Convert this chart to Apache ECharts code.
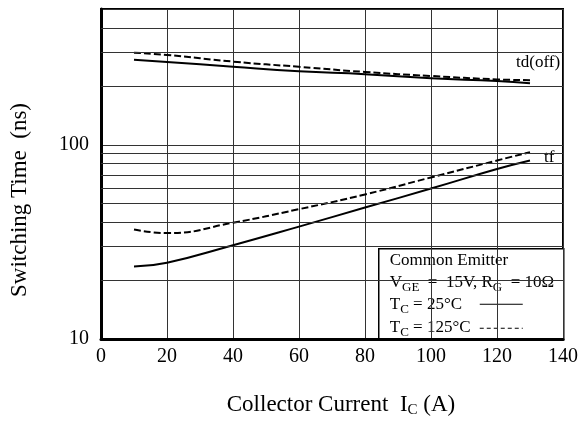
<!DOCTYPE html>
<html>
<head>
<meta charset="utf-8">
<script src="https://cdn.jsdelivr.net/npm/echarts@6/dist/echarts.min.js"></script>
<style>
  html, body { margin: 0; padding: 0; background: #fff; }
  #chart { width: 582px; height: 426px; }
</style>
</head>
<body>
<div id="chart"></div>
<script>
// collector current (A)
var current = [10, 20, 40, 60, 80, 100, 120, 130];
// switching times (ns)
var tdOff25 = [274, 267, 252, 239, 231, 220, 213, 207.5];
var tdOff125 = [298, 290, 268, 252, 237, 226, 217, 215];
var tf25 = [23.6, 24.7, 30.4, 37.9, 47.5, 59.5, 75, 83];
var tf125 = [36.6, 35.1, 39.7, 46.6, 55.5, 67.9, 83, 91.6];
// minor log grid values
var minorGrid = [20, 30, 40, 50, 60, 70, 80, 90, 200, 300, 400];

var serif = '"Liberation Serif", "DejaVu Serif", serif';

function pairs(ys) {
    return current.map(function(x, i) { return [x, ys[i]]; });
}

// rich styles for legend text with subscripts
var legendRich = {
    m: { fontFamily: serif, fontSize: 17, fill: '#000', lineHeight: 20, verticalAlign: 'top' },
    s: { fontFamily: serif, fontSize: 13, fill: '#000', lineHeight: 20, verticalAlign: 'bottom', padding: [8, 0, 0, 0] }
};

var chart = echarts.init(document.getElementById('chart'));

var solid = { color: '#000', width: 2, type: 'solid' };
var dashed = { color: '#000', width: 2, type: [7, 3] };

var option = {
    backgroundColor: '#fff',
    animation: false,
    grid: {
        left: 101, right: 19, top: 9, bottom: 87,
        show: true, borderColor: '#000', borderWidth: 2
    },
    xAxis: {
        type: 'value', min: 0, max: 140, interval: 20,
        name: 'Collector Current  I{s|C} (A)',
        nameLocation: 'middle', nameGap: 53,
        nameTextStyle: {
            fontFamily: serif, fontSize: 23, color: '#000', padding: [0, 0, 0, 18],
            rich: {
                s: { fontFamily: serif, fontSize: 15, color: '#000', padding: [11, 0, 0, 0] }
            }
        },
        axisLine: { lineStyle: { color: '#000', width: 3 } },
        axisTick: { show: false },
        axisLabel: { fontFamily: serif, fontSize: 20, color: '#000', margin: 8 },
        splitLine: { show: true, lineStyle: { color: '#333', width: 1 } }
    },
    yAxis: {
        type: 'log', logBase: 10, min: 10, max: 500,
        name: 'Switching Time  (ns)',
        nameLocation: 'middle', nameGap: 70,
        nameTextStyle: { fontFamily: serif, fontSize: 23, color: '#000', padding: [0, 52, 0, 0] },
        axisLine: { lineStyle: { color: '#000', width: 3 } },
        axisTick: { show: false },
        axisLabel: { fontFamily: serif, fontSize: 20, color: '#000', margin: 12, showMaxLabel: false },
        splitLine: { show: true, lineStyle: { color: '#333', width: 1 } }
    },
    series: [
        {
            type: 'line', data: [], z: 1, silent: true,
            markLine: {
                silent: true, symbol: 'none', animation: false,
                label: { show: false },
                lineStyle: { color: '#333', width: 1, type: 'solid' },
                data: minorGrid.map(function(v) { return { yAxis: v }; })
            }
        },
        {
            name: 'td(off) 25', type: 'line', data: pairs(tdOff25), smooth: true,
            showSymbol: false, lineStyle: solid, z: 3
        },
        {
            name: 'td(off) 125', type: 'line', data: pairs(tdOff125), smooth: true,
            showSymbol: false, lineStyle: dashed, z: 3,
            endLabel: {
                show: true, formatter: 'td(off)', offset: [-22, -18],
                fontFamily: serif, fontSize: 17, color: '#000'
            }
        },
        {
            name: 'tf 25', type: 'line', data: pairs(tf25), smooth: true,
            showSymbol: false, lineStyle: solid, z: 3
        },
        {
            name: 'tf 125', type: 'line', data: pairs(tf125), smooth: true,
            showSymbol: false, lineStyle: dashed, z: 3,
            endLabel: {
                show: true, formatter: 'tf', offset: [0, 5],
                fontFamily: serif, fontSize: 17, color: '#000',
                backgroundColor: '#fff', padding: [1, 6, 1, 6]
            }
        }
    ],
    graphic: [
        {
            type: 'group', left: 378, top: 248, z: 10,
            children: [
                {
                    type: 'rect', shape: { x: 0, y: 0, width: 185, height: 91 },
                    style: { fill: '#fff', stroke: '#000', lineWidth: 1.5 }
                },
                {
                    type: 'text', x: 11, y: 3,
                    style: { text: 'Common Emitter', font: '17px ' + serif, fill: '#000' }
                },
                {
                    type: 'text', x: 11, y: 25,
                    style: { text: '{m|V}{s|GE}{m|  =  15V, R}{s|G}{m|  = 10Ω}', rich: legendRich }
                },
                {
                    type: 'text', x: 11, y: 47,
                    style: { text: '{m|T}{s|C}{m| = 25°C}', rich: legendRich }
                },
                {
                    type: 'line', shape: { x1: 101, y1: 55.5, x2: 144, y2: 55.5 },
                    style: { stroke: '#000', lineWidth: 1 }
                },
                {
                    type: 'text', x: 11, y: 70,
                    style: { text: '{m|T}{s|C}{m| = 125°C}', rich: legendRich }
                },
                {
                    type: 'line', shape: { x1: 101, y1: 79.5, x2: 144, y2: 79.5 },
                    style: { stroke: '#000', lineWidth: 1, lineDash: [4, 3] }
                }
            ]
        }
    ]
};

chart.setOption(option);
</script>
</body>
</html>
